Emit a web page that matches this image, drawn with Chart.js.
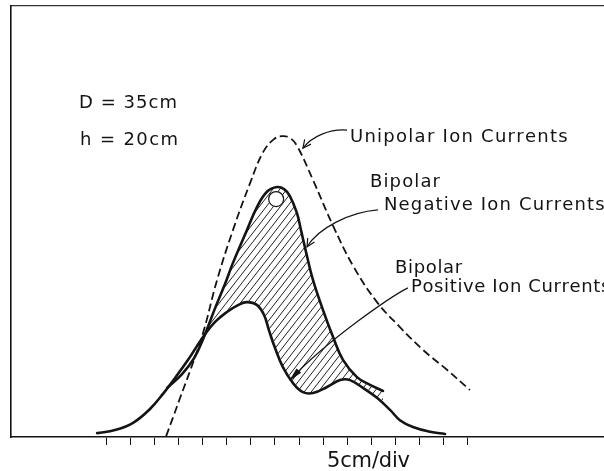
<!DOCTYPE html>
<html>
<head>
<meta charset="utf-8">
<script src="https://cdn.jsdelivr.net/npm/chart.js@4.4.1/dist/chart.umd.min.js"></script>
<style>
  body { margin: 0; background: #fff; overflow: hidden; }
  #wrap { width: 604px; height: 471px; }
</style>
</head>
<body>
<div id="wrap"><canvas id="c" width="604" height="471"></canvas></div>
<script>
// x in divisions of 5cm (tick 0 = first tick), y in relative current units (0..100)
const divTicks = [0, 1, 2, 3, 4, 5, 6, 7, 8, 9, 10, 11, 12, 13, 14, 15]

const unipolarX = [2.49, 2.78, 3.07, 3.48, 4.02, 4.60, 5.26, 5.97, 6.51, 6.96, 7.29, 7.62, 7.92, 8.58, 9.41, 10.24, 11.23, 12.18, 13.14, 14.13, 15.08]
const unipolarY = [0.2, 4.6, 9.1, 15.3, 24.1, 36.4, 48.0, 58.9, 66.1, 69.1, 69.8, 69.4, 67.5, 59.6, 49.0, 39.7, 31.3, 25.5, 20.2, 15.6, 10.9]

const negativeX = [2.53, 3.15, 3.65, 4.02, 4.52, 4.93, 5.26, 5.84, 6.26, 6.67, 7.09, 7.38, 7.62, 7.91, 8.08, 8.29, 8.58, 8.99, 9.41, 9.82, 10.40, 10.94, 11.48]
const negativeY = [11.4, 14.6, 18.3, 22.7, 29.9, 35.5, 40.4, 48.0, 53.4, 56.9, 58.0, 57.5, 55.9, 52.0, 48.0, 42.9, 36.4, 29.5, 23.2, 17.9, 13.9, 12.1, 10.7]

const positiveX = [-0.37, 0.37, 1.12, 1.82, 2.36, 2.86, 3.40, 4.02, 4.52, 5.01, 5.47, 5.84, 6.26, 6.55, 6.75, 7.00, 7.33, 7.75, 8.16, 8.58, 9.16, 9.70, 10.11, 10.65, 11.23, 11.77, 12.18, 12.72, 13.43, 14.05]
const positiveY = [0.9, 1.6, 3.3, 6.5, 10.0, 13.7, 17.9, 23.2, 26.7, 29.0, 30.6, 31.3, 30.6, 28.3, 24.8, 20.7, 16.2, 12.5, 10.4, 10.2, 11.6, 13.2, 13.2, 11.4, 9.1, 6.3, 3.9, 2.3, 1.2, 0.7]

const markX = [7.05]   // small circle near the negative peak
const markY = [55.2]

const labels = {
  d: 'D = 35cm',
  h: 'h = 20cm',
  uni: 'Unipolar Ion Currents',
  bip: 'Bipolar',
  neg: 'Negative Ion Currents',
  pos: 'Positive Ion Currents',
  unit: '5cm/div'
}

const ink = '#141414'
const pts = (xs, ys) => xs.map((v, i) => ({ x: v, y: ys[i] }))

let canv = document.getElementById('c')
let c = canv.getContext('2d')

/* Diagonal hatch used between the two bipolar curves */
function makeHatch() {
  let tile = document.createElement('canvas')
  tile.width = 7
  tile.height = 9
  let t = tile.getContext('2d')
  t.strokeStyle = '#222'
  t.lineWidth = 1
  for (let k = -1; k <= 1; k++) {
    t.beginPath()
    t.moveTo(k * 7, 9)
    t.lineTo(k * 7 + 7, 0)
    t.stroke()
  }
  return c.createPattern(tile, 'repeat')
}

/* Draws text stretched to a given width, like the stencil lettering of the original */
function spaced(ctx, str, left, base, width) {
  let natural = ctx.measureText(str).width
  let extra = (width - natural) / (str.length - 1)
  let cx = left
  for (const ch of str) {
    ctx.fillText(ch, cx, base)
    cx += ctx.measureText(ch).width + extra
  }
}

function arrow(ctx, p, filled) {
  ctx.beginPath()
  ctx.moveTo(p[0], p[1])
  ctx.bezierCurveTo(p[2], p[3], p[4], p[5], p[6], p[7])
  ctx.stroke()
  let ang = Math.atan2(p[7] - p[5], p[6] - p[4])
  let len = filled ? 11 : 9
  let spread = filled ? 0.22 : 0.45
  ctx.beginPath()
  ctx.moveTo(p[6] - len * Math.cos(ang - spread), p[7] - len * Math.sin(ang - spread))
  ctx.lineTo(p[6], p[7])
  ctx.lineTo(p[6] - len * Math.cos(ang + spread), p[7] - len * Math.sin(ang + spread))
  if (filled) {
    ctx.closePath()
    ctx.fill()
  }
  ctx.stroke()
}

const notes = {
  id: 'notes',
  afterDatasetsDraw(chart) {
    const { ctx, scales: { x, y } } = chart
    const at = (a, b) => [x.getPixelForValue(a), y.getPixelForValue(b)]
    const curve = (...v) => {
      let out = []
      for (let i = 0; i < v.length; i += 2) out.push(...at(v[i], v[i + 1]))
      return out
    }
    ctx.save()
    ctx.fillStyle = ink
    ctx.strokeStyle = ink
    ctx.lineWidth = 1.2
    ctx.textBaseline = 'alphabetic'
    ctx.font = '18px "DejaVu Sans"'
    let p
    p = at(-1.12, 76.3); spaced(ctx, labels.d, p[0], p[1], 98)
    p = at(-1.08, 67.8); spaced(ctx, labels.h, p[0], p[1], 98)
    p = at(10.11, 68.4); spaced(ctx, labels.uni, p[0], p[1], 217)
    p = at(10.94, 58.0); spaced(ctx, labels.bip, p[0], p[1], 70)
    p = at(11.52, 52.7); spaced(ctx, labels.neg, p[0], p[1], 220)
    p = at(11.98, 38.0); spaced(ctx, labels.bip, p[0], p[1], 67)
    p = at(12.64, 33.6); spaced(ctx, labels.pos, p[0], p[1], 198)
    ctx.font = '21px "DejaVu Sans"'
    p = at(9.16, -6.96); spaced(ctx, labels.unit, p[0], p[1], 83)

    // leader arrows from the labels to the curves
    arrow(ctx, curve(9.99, 71.2, 9.28, 71.5, 8.54, 69.8, 8.16, 67.0), false)
    arrow(ctx, curve(11.27, 52.7, 10.11, 52.2, 8.79, 48.5, 8.33, 44.1), false)
    arrow(ctx, curve(12.51, 34.6, 11.85, 32.7, 9.28, 23.0, 7.67, 13.5), true)
    ctx.restore()
  }
}

const lineStyle = {
  pointRadius: 0,
  borderColor: ink,
  borderWidth: 2.6,
  borderJoinStyle: 'round',
  borderCapStyle: 'round',
  tension: 0.4,
  showLine: true
}

new Chart(c, {
  type: 'scatter',
  data: {
    datasets: [
      {
        label: 'mark',
        data: pts(markX, markY),
        pointRadius: 7.5,
        pointBorderWidth: 1.2,
        pointBorderColor: ink,
        pointBackgroundColor: '#fff',
        showLine: false
      },
      Object.assign({}, lineStyle, {
        label: 'Bipolar Negative Ion Currents',
        data: pts(negativeX, negativeY),
        fill: { target: '+1', above: makeHatch(), below: 'rgba(0,0,0,0)' }
      }),
      Object.assign({}, lineStyle, {
        label: 'Bipolar Positive Ion Currents',
        data: pts(positiveX, positiveY),
        fill: false
      }),
      Object.assign({}, lineStyle, {
        label: 'Unipolar Ion Currents',
        data: pts(unipolarX, unipolarY),
        borderWidth: 1.8,
        borderDash: [8, 4],
        borderCapStyle: 'butt',
        fill: false
      })
    ]
  },
  options: {
    responsive: false,
    animation: false,
    devicePixelRatio: 1,
    layout: { padding: 0, autoPadding: false },
    plugins: {
      legend: { display: false },
      tooltip: { enabled: false },
      title: { display: false }
    },
    scales: {
      x: {
        type: 'linear',
        position: 'bottom',
        min: -3.94,
        max: 20.64,
        afterBuildTicks: (s) => { s.ticks = divTicks.map(v => ({ value: v })) },
        afterFit: (s) => { s.height = 34 },
        ticks: { display: false },
        grid: { drawOnChartArea: false, drawTicks: true, tickLength: 8, color: ink, lineWidth: 1 },
        border: { display: true, color: ink, width: 1.6 }
      },
      xTop: {
        type: 'linear',
        position: 'top',
        min: -3.94,
        max: 20.64,
        afterFit: (s) => { s.height = 6 },
        ticks: { display: false },
        grid: { display: false },
        border: { display: true, color: '#333', width: 1.2 }
      },
      y: {
        type: 'linear',
        min: 0,
        max: 100,
        afterFit: (s) => { s.width = 11 },
        ticks: { display: false },
        grid: { display: false },
        border: { display: true, color: ink, width: 1.6 }
      }
    }
  },
  plugins: [notes]
})
</script>
</body>
</html>
